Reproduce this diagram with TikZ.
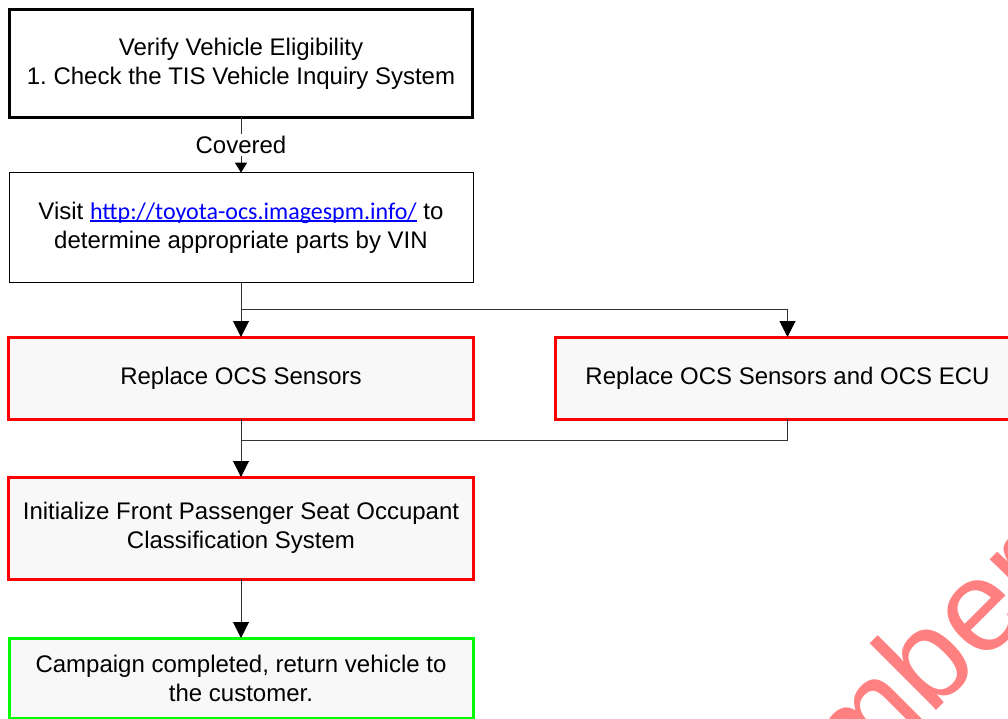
\documentclass[tikz,border=0pt]{standalone}
\usepackage{fontspec}
\setmainfont{Liberation Sans}
\newfontfamily\carlito{Carlito}
\usetikzlibrary{arrows.meta}
\definecolor{boxfill}{HTML}{F8F8F8}
\definecolor{linkblue}{HTML}{0000FF}
\definecolor{wmarkpink}{HTML}{FF8080}
\definecolor{okred}{HTML}{FF0000}
\definecolor{okgreen}{HTML}{00FF00}
\definecolor{connline}{HTML}{333333}
\newcommand\ulinktext[1]{\setbox0\hbox{#1}\rlap{\rule[-2.2pt]{\wd0}{1.4pt}}\box0}
\frenchspacing
\tikzset{
  basebox/.style={rectangle, inner sep=0pt, outer sep=0pt, align=center,
    font=\fontsize{24}{29}\selectfont},
  blackthick/.style={basebox, draw=black, line width=3pt, fill=white},
  blackthin/.style={basebox, draw=black, line width=1pt, fill=white},
  redbox/.style={basebox, draw=okred, line width=3pt, fill=boxfill},
  greenbox/.style={basebox, draw=okgreen, line width=3pt, fill=boxfill},
  conn/.style={draw=connline, line width=1pt},
  bigarrow/.style={conn, -{Triangle[width=16pt,length=16pt,color=black,fill=black]}},
  smallarrow/.style={conn, -{Triangle[width=12pt,length=10pt,color=black,fill=black]}},
  wmtext/.style={text=wmarkpink, inner sep=0pt, rotate=45, anchor=base west,
    font=\fontsize{130}{130}\selectfont}
}
\begin{document}
\begin{tikzpicture}[x=1pt,y=-1pt]
\useasboundingbox (0,0) rectangle (1008,719);
\clip (0,0) rectangle (1008,719);
\fill[white] (0,0) rectangle (1008,719);

% watermark
\node[wmtext] (wm) at (854,793) {mber};

% boxes
\node[blackthick, minimum width=463pt, minimum height=108pt] (verify) at (241,63.5)
  {Verify Vehicle Eligibility\\1. Check the TIS Vehicle Inquiry System};
\node[blackthin, minimum width=464pt, minimum height=110pt] (visit) at (241,227.7)
  {Visit {\carlito\color{linkblue}\ulinktext{http://toyota-ocs.imagespm.info/}} to\\determine appropriate parts by VIN};
\node[redbox, minimum width=465pt, minimum height=82pt] (sensors) at (241,378)
  {Replace OCS Sensors};
\node[redbox, minimum width=465pt, minimum height=82pt] (ecu) at (787.5,378)
  {Replace OCS Sensors and OCS ECU};
\node[redbox, minimum width=465pt, minimum height=102pt] (init) at (241,528)
  {Initialize Front Passenger Seat Occupant\\Classification System};
\node[greenbox, minimum width=464pt, minimum height=80.5pt] (done) at (241,678.25)
  {Campaign completed, return vehicle to\\the customer.};

% connector coordinates
\coordinate (split) at (241,309.3);
\coordinate (merge) at (241,440);

% connectors
\draw[smallarrow] (verify.south) -- node[fill=white, inner sep=2pt, font=\fontsize{24}{29}\selectfont] (covered) {Covered} (visit.north);
\draw[bigarrow] (visit.south) -- (sensors.north);
\draw[bigarrow] (split) -| (ecu.north);
\draw[bigarrow] (sensors.south) -- (init.north);
\draw[conn] (ecu.south) |- (merge);
\draw[bigarrow] (init.south) -- (done.north);
\end{tikzpicture}
\end{document}
